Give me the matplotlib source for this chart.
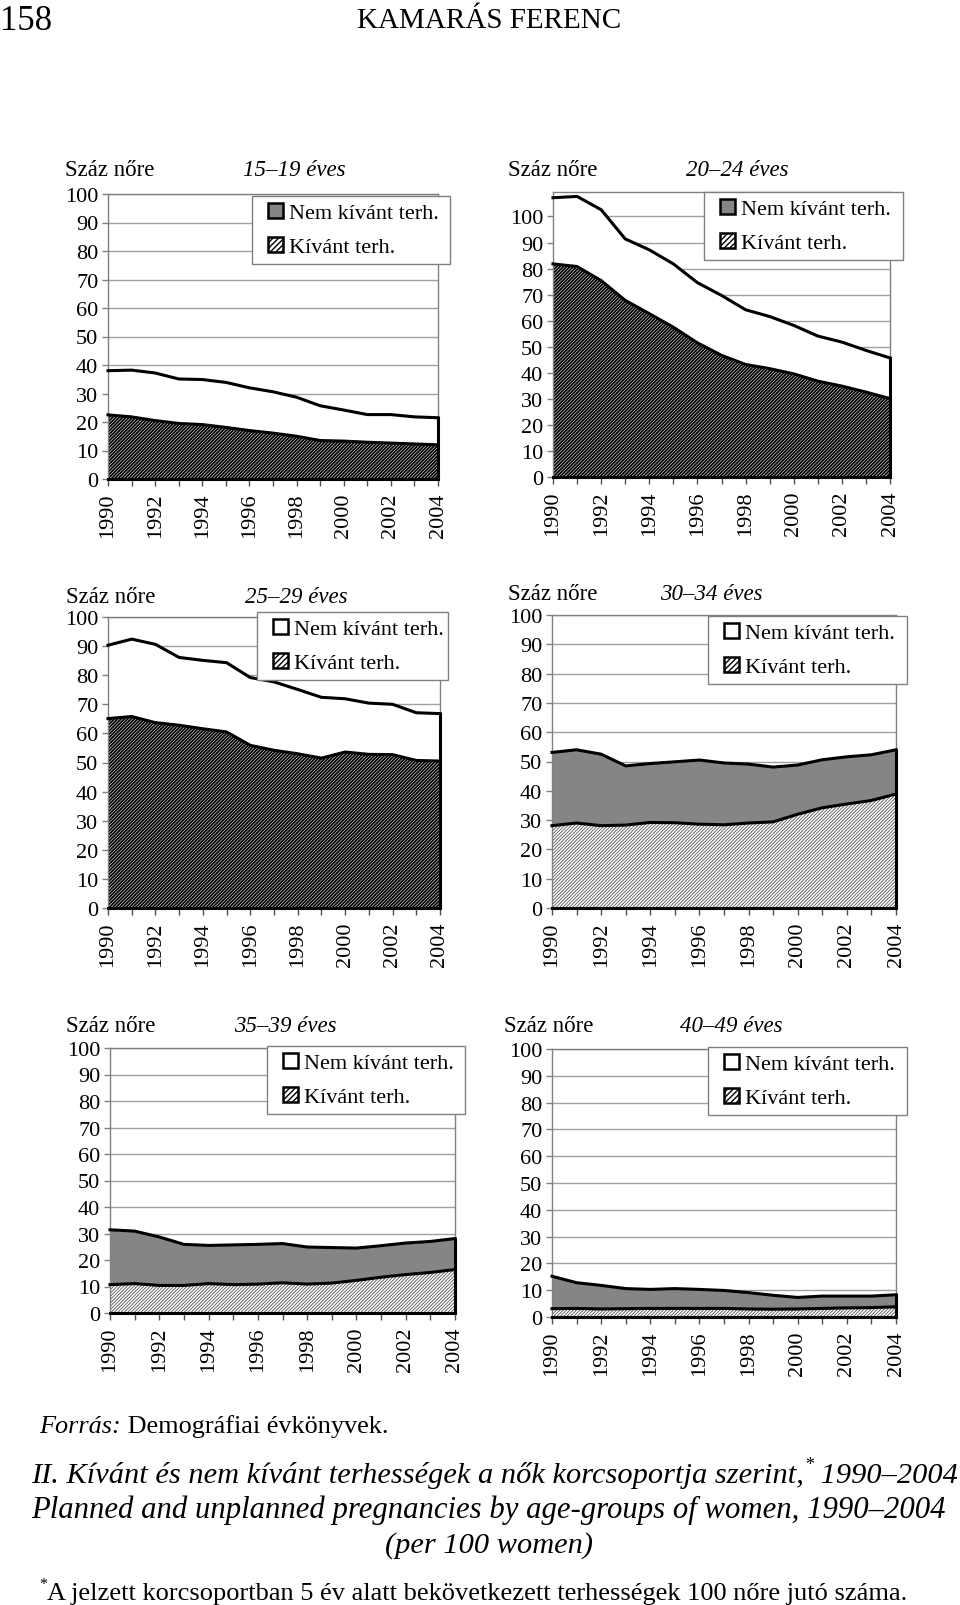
import matplotlib
matplotlib.use('Agg')
import matplotlib.pyplot as plt
from matplotlib.patches import Patch, Rectangle
from matplotlib.legend_handler import HandlerPatch
import numpy as np

W, H = 960, 1606
SERIF = ['Liberation Serif', 'DejaVu Serif']
plt.rcParams['font.family'] = SERIF

# ---------------- data ----------------
years = list(range(1990, 2005))
year_labels = [str(y) if y % 2 == 0 else '' for y in years]
y_ticks = list(range(0, 101, 10))
series_names = ['Nem kívánt terh.', 'Kívánt terh.']
unit_label = 'Száz nőre'

age_titles = ['15–19 éves', '20–24 éves', '25–29 éves',
              '30–34 éves', '35–39 éves', '40–49 éves']

kivant_15_19 = [22.5, 21.8, 20.5, 19.5, 19.1, 18.1, 17.0, 16.1, 15.0, 13.5, 13.3, 12.9, 12.6, 12.3, 12.0]
nem_15_19 = [15.5, 16.4, 16.7, 15.6, 15.8, 15.8, 15.0, 14.5, 13.7, 12.2, 10.9, 9.7, 10.0, 9.5, 9.5]

kivant_20_24 = [81.8, 80.8, 75.4, 67.8, 62.7, 57.5, 51.5, 46.7, 43.2, 41.6, 39.6, 36.8, 34.9, 32.6, 30.1]
nem_20_24 = [25.4, 26.9, 27.2, 23.6, 24.5, 24.3, 23.1, 23.0, 21.0, 20.0, 18.6, 17.3, 16.9, 16.0, 15.6]

kivant_25_29 = [65.1, 65.8, 63.7, 62.8, 61.6, 60.5, 55.9, 54.2, 53.0, 51.5, 53.6, 52.8, 52.7, 50.7, 50.5]
nem_25_29 = [25.2, 26.6, 26.9, 23.3, 23.5, 23.8, 23.3, 23.5, 22.1, 20.9, 18.3, 17.6, 17.3, 16.4, 16.3]

kivant_30_34 = [28.1, 29.0, 28.1, 28.3, 29.2, 29.1, 28.6, 28.4, 29.0, 29.4, 32.0, 34.2, 35.5, 36.7, 38.9]
nem_30_34 = [25.0, 25.0, 24.4, 20.2, 20.1, 20.8, 21.9, 21.1, 20.1, 18.7, 16.8, 16.4, 16.1, 15.6, 15.1]

kivant_35_39 = [10.7, 11.1, 10.4, 10.4, 11.1, 10.7, 10.9, 11.4, 10.9, 11.3, 12.3, 13.5, 14.5, 15.3, 16.4]
nem_35_39 = [20.7, 19.8, 18.3, 15.5, 14.4, 15.0, 15.0, 14.8, 14.0, 13.4, 12.2, 11.9, 11.9, 11.7, 11.7]

kivant_40_49 = [3.1, 3.2, 3.0, 3.1, 3.2, 3.2, 3.2, 3.2, 3.0, 2.9, 3.0, 3.2, 3.4, 3.5, 3.8]
nem_40_49 = [12.1, 9.6, 8.8, 7.5, 7.1, 7.4, 7.1, 6.7, 6.1, 5.2, 4.3, 4.6, 4.4, 4.3, 4.5]

panels_data = [(kivant_15_19, nem_15_19), (kivant_20_24, nem_20_24), (kivant_25_29, nem_25_29),
               (kivant_30_34, nem_30_34), (kivant_35_39, nem_35_39), (kivant_40_49, nem_40_49)]

# ---------------- layout / style ----------------
boxes = [(108, 438, 195, 480, 100),
         (553, 890, 193, 478, 109.4),
         (108, 440, 618, 909, 100),
         (552, 896, 616, 909, 100),
         (110, 455, 1049, 1314, 100),
         (552, 896, 1050, 1318, 100)]
labels_pos = [(65, 171, 294), (508, 171, 737), (66, 598, 296),
              (508, 595, 711), (66, 1026, 285), (504, 1026, 731)]
legend_boxes = [(252, 450, 197), (704, 903, 193), (257, 448, 613),
                (708, 907, 617), (267, 465, 1047), (708, 907, 1048)]

GRAY_FILL = '#858585'
upper_fill = ['white', 'white', 'white', GRAY_FILL, GRAY_FILL, GRAY_FILL]
legend_nem = [GRAY_FILL, GRAY_FILL, 'white', 'white', 'white', 'white']
dark_hatch = [True, True, True, False, False, False]
HATCH = '//////////'

fig = plt.figure(figsize=(W / 100, H / 100), dpi=100)


def fx(x):
    return x / W


def fy(y):
    return 1 - y / H


def square_patch(legend, orig_handle, xdescent, ydescent, width, height, fontsize):
    sq = 15.0 * 72 / 100  # 15 px in points
    return Rectangle((-xdescent + width - sq, -ydescent + (height - sq) / 2), sq, sq)


def set_hlw(artist, lw):
    if hasattr(artist, 'set_hatch_linewidth'):
        artist.set_hatch_linewidth(lw)


TICK_FS = 16
LEG_FS = 16
for i, ((kiv, nem), (l, r, t, b, ymax)) in enumerate(zip(panels_data, boxes)):
    ax = fig.add_axes([fx(l), fy(b), (r - l) / W, (b - t) / H])
    ax.set_xlim(years[0], years[-1])
    ax.set_ylim(0, ymax)
    kiv = np.array(kiv)
    top = kiv + np.array(nem)

    ax.set_yticks(y_ticks)
    ax.set_yticklabels([str(v) for v in y_ticks], fontsize=TICK_FS)
    ax.yaxis.grid(True, color='#a0a0a0', lw=1.0)
    ax.set_axisbelow(True)
    ax.set_xticks(years)
    ax.set_xticklabels(year_labels, rotation=90, fontsize=TICK_FS)
    ax.tick_params(axis='x', direction='out', length=5, width=1, color='#505050', pad=5)
    ax.tick_params(axis='y', direction='out', length=4, width=1, color='#808080', pad=3)
    for sp in ax.spines.values():
        sp.set_color('#808080')
        sp.set_linewidth(1.0)

    if dark_hatch[i]:
        hlw, hcol = 1.3, 'black'
    else:
        hlw, hcol = 0.6, '#555555'
    plt.rcParams['hatch.linewidth'] = hlw
    ax.fill_between(years, top, kiv, facecolor=upper_fill[i], lw=0, zorder=2)
    pc = ax.fill_between(years, kiv, 0, facecolor='white', edgecolor=hcol,
                         hatch=HATCH, lw=0, zorder=2)
    set_hlw(pc, hlw)

    ax.plot(years, kiv, color='black', lw=2.2, zorder=4, clip_on=False, solid_joinstyle='round')
    ax.plot(years, top, color='black', lw=2.2, zorder=4, clip_on=False, solid_joinstyle='round')
    ax.plot([years[-1], years[-1]], [0, top[-1]], color='black', lw=2.2, zorder=4, clip_on=False)
    ax.plot([years[0], years[-1]], [0, 0], color='black', lw=2.2, zorder=4, clip_on=False)

    # legend
    plt.rcParams['hatch.linewidth'] = 1.0
    h_nem = Patch(facecolor=legend_nem[i], edgecolor='black', lw=1.8)
    h_kiv = Patch(facecolor='white', edgecolor='black', lw=1.8, hatch='//////')
    x0, x1, ytop = legend_boxes[i]
    hbox = 66
    leg = ax.legend([h_nem, h_kiv], series_names, loc='upper left',
                    bbox_to_anchor=(fx(x0), fy(ytop + hbox), (x1 - x0) / W, hbox / H),
                    bbox_transform=fig.transFigure, mode='expand', borderaxespad=0,
                    fontsize=LEG_FS, frameon=True, fancybox=False, framealpha=1,
                    borderpad=0.31, labelspacing=0.6, handlelength=1.1,
                    handleheight=0.7, handletextpad=0.25,
                    handler_map={Patch: HandlerPatch(patch_func=square_patch)})
    leg.get_frame().set_edgecolor('#808080')
    leg.get_frame().set_linewidth(1.0)
    leg.set_zorder(10)

    ux, uy, tcx = labels_pos[i]
    fig.text(fx(ux), fy(uy), unit_label, fontsize=16.5, ha='left', va='center')
    fig.text(fx(tcx), fy(uy), age_titles[i], fontsize=16.5, style='italic', ha='center', va='center')

# ---------------- header & footer ----------------
fig.text(fx(0), fy(21), '158', fontsize=25, ha='left', va='center')

fig.canvas.draw()
renderer = fig.canvas.get_renderer()


def seq_text(parts, x, y, target_w=None, size=20, center=False):
    texts = []
    for s, st, sup in parts:
        t = fig.text(0, 0, s, fontsize=size * (0.6 if sup else 1), style=st,
                     ha='left', va='baseline')
        texts.append((t, sup))

    def total_w():
        return sum(t.get_window_extent(renderer).width for t, _ in texts)

    if target_w is not None:
        s2 = size * target_w / total_w()
        for t, sup in texts:
            t.set_fontsize(s2 * (0.6 if sup else 1))
        size = s2
    tw = total_w()
    cx = x - tw / 2 if center else x
    base = y + size * 100 / 72 * 0.33
    for t, sup in texts:
        by = base - (size * 100 / 72 * 0.42 if sup else 0)
        t.set_position((fx(cx), fy(by)))
        cx += t.get_window_extent(renderer).width
    return size


seq_text([('KAMARÁS FERENC', 'normal', False)], 489, 18, target_w=265, center=True)
seq_text([('Forrás:', 'italic', False), (' Demográfiai évkönyvek.', 'normal', False)],
         39, 1424, target_w=350)
fsz = seq_text([('II. Kívánt és nem kívánt terhességek a nők korcsoportja szerint,', 'italic', False),
                ('*', 'italic', True), (' 1990–2004', 'italic', False)], 31, 1473, target_w=925)
seq_text([('Planned and unplanned pregnancies by age-groups of women, 1990–2004', 'italic', False)],
         488, 1508, target_w=914, center=True)
seq_text([('(per 100 women)', 'italic', False)], 489, 1543, size=fsz, center=True)
seq_text([('*', 'normal', True),
          ('A jelzett korcsoportban 5 év alatt bekövetkezett terhességek 100 nőre jutó száma.', 'normal', False)],
         39, 1591, target_w=867)

fig.savefig('out.png', dpi=100)
